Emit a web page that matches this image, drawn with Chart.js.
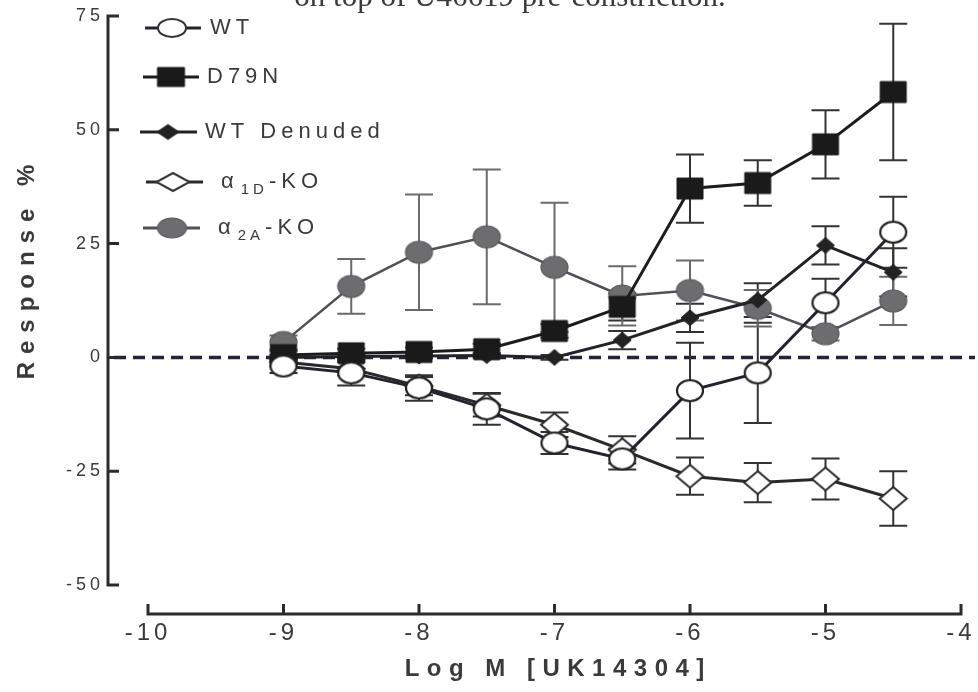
<!DOCTYPE html>
<html>
<head>
<meta charset="utf-8">
<script src="https://cdn.jsdelivr.net/npm/chart.js@4.4.0/dist/chart.umd.min.js"></script>
<style>
  html, body { margin: 0; padding: 0; background: #ffffff; }
  #wrap { width: 978px; height: 692px; }
</style>
</head>
<body>
<div id="wrap"><canvas id="c" width="978" height="692"></canvas></div>
<script>
// Concentration-response to UK14304 (log molar), % of U46619 pre-constriction
const logDose = [-9, -8.5, -8, -7.5, -7, -6.5, -6, -5.5, -5, -4.5];

const wtMean       = [-1.9, -3.4, -6.7, -11.3, -18.8, -22.3, -7.3, -3.4, 12.0, 27.5];
const wtSem        = [1.5, 2.8, 2.8, 3.5, 2.4, 2.3, 10.5, 11.0, 5.3, 7.8];

const d79nMean     = [0.5, 0.9, 1.2, 1.8, 5.8, 11.1, 37.1, 38.3, 46.8, 58.3];
const d79nSem      = [1.0, 1.0, 1.0, 1.2, 1.5, 3.0, 7.5, 5.0, 7.5, 15.0];

const denudedMean  = [0.0, 0.2, 0.3, 0.4, 0.0, 3.8, 8.7, 12.6, 24.6, 18.7];
const denudedSem   = [0.5, 0.5, 0.5, 0.5, 0.5, 2.0, 3.1, 3.7, 4.2, 5.3];

const a1dMean      = [-1.0, -2.5, -6.3, -10.5, -14.8, -20.3, -26.1, -27.5, -26.7, -31.0];
const a1dSem       = [1.0, 1.5, 2.0, 2.5, 2.7, 3.0, 4.1, 4.3, 4.5, 6.0];

const a2aMean      = [3.3, 15.6, 23.1, 26.5, 19.8, 13.5, 14.7, 10.8, 5.2, 12.4];
const a2aSem       = [1.5, 6.0, 12.7, 14.8, 14.2, 6.5, 6.6, 4.0, 1.5, 5.3];

const xTickValues = [-10, -9, -8, -7, -6, -5, -4];
const yTickValues = [-50, -25, 0, 25, 50, 75];

const xTitle = 'Log M [UK14304]';
const yTitle = 'Response %';
const topNote = 'on top of U46619 pre-constriction.';

const SANS = "'Liberation Sans', Arial, Helvetica, sans-serif";
const SERIF = "'Liberation Serif', 'Times New Roman', serif";
const INK = '#2b2b2b';
const TEXT = '#3a3a3a';

// Marker sprites (slightly wider than tall, like the printed figure)
function marker(shape, w, h, fill, stroke, lw) {
  const pad = Math.ceil(lw) + 1;
  const c = document.createElement('canvas');
  c.width = Math.ceil(w) + pad * 2;
  c.height = Math.ceil(h) + pad * 2;
  const g = c.getContext('2d');
  const cx = c.width / 2, cy = c.height / 2;
  g.beginPath();
  if (shape === 'ellipse') {
    g.ellipse(cx, cy, w / 2, h / 2, 0, 0, Math.PI * 2);
  } else if (shape === 'square') {
    g.rect(cx - w / 2, cy - h / 2, w, h);
  } else {
    g.moveTo(cx, cy - h / 2); g.lineTo(cx + w / 2, cy);
    g.lineTo(cx, cy + h / 2); g.lineTo(cx - w / 2, cy); g.closePath();
  }
  g.fillStyle = fill; g.fill();
  if (lw) { g.lineWidth = lw; g.strokeStyle = stroke; g.stroke(); }
  return c;
}

const series = [
  { label: 'WT',         mean: wtMean,      sem: wtSem,      line: '#222230', bar: '#333333', lw: 3,
    pt: marker('ellipse', 26, 21, '#ffffff', '#222222', 2.2),
    key: marker('ellipse', 28, 18, '#ffffff', '#333333', 2) },
  { label: 'D79N',       mean: d79nMean,    sem: d79nSem,    line: '#1c1c1c', bar: '#333333', lw: 3,
    pt: marker('square', 26, 21, '#1a1a1a', '#1a1a1a', 1),
    key: marker('square', 27, 19, '#1a1a1a', '#1a1a1a', 1) },
  { label: 'WT Denuded', mean: denudedMean, sem: denudedSem, line: '#222228', bar: '#333333', lw: 3,
    pt: marker('diamond', 18, 16, '#222222', '#222222', 1),
    key: marker('diamond', 22, 15, '#222222', '#222222', 1) },
  { label: 'a1D',        mean: a1dMean,     sem: a1dSem,     line: '#2a2a2a', bar: '#333333', lw: 3,
    pt: marker('diamond', 27, 23, '#ffffff', '#2a2a2a', 2),
    key: marker('diamond', 33, 18, '#ffffff', '#333333', 2) },
  { label: 'a2A',        mean: a2aMean,     sem: a2aSem,     line: '#505058', bar: '#6a6a6a', lw: 2.5,
    pt: marker('ellipse', 27, 22, '#6d6d6f', '#5a5a5c', 1.2),
    key: marker('ellipse', 29, 20, '#6d6d6f', '#5a5a5c', 1.2) }
];

const datasets = series.map((s, i) => ({
  label: s.label,
  data: logDose.map((x, j) => ({ x: x, y: s.mean[j] })),
  sem: s.sem,
  barColor: s.bar,
  legendMarker: s.key,
  borderColor: s.line,
  borderWidth: s.lw,
  pointStyle: s.pt,
  pointRadius: 12,
  pointHoverRadius: 12,
  showLine: true,
  tension: 0,
  fill: false,
  order: i
}));

function spacedText(ctx, str, x, y, spacing, align) {
  ctx.letterSpacing = spacing + 'px';
  const w = ctx.measureText(str).width - spacing;
  let sx = x;
  if (align === 'center') sx = x - w / 2;
  else if (align === 'right') sx = x - w;
  ctx.textAlign = 'left';
  ctx.fillText(str, sx, y);
  return sx + w + spacing;
}

// SEM bars, axes frame, zero reference line
const framePlugin = {
  id: 'frame',
  beforeDraw(chart) {
    chart.ctx.letterSpacing = '4px';
  },
  beforeDatasetsDraw(chart) {
    const { ctx, scales: { x, y }, chartArea } = chart;
    ctx.save();
    ctx.letterSpacing = '0px';

    // dashed zero line
    const y0 = y.getPixelForValue(0);
    ctx.strokeStyle = '#23233a';
    ctx.lineWidth = 3.5;
    ctx.setLineDash([12, 7]);
    ctx.beginPath();
    ctx.moveTo(chartArea.left - 34, y0);
    ctx.lineTo(975, y0);
    ctx.stroke();
    ctx.setLineDash([]);

    // error bars
    chart.data.datasets.forEach((ds, i) => {
      if (!chart.isDatasetVisible(i)) return;
      ctx.strokeStyle = ds.barColor;
      ctx.lineWidth = 2;
      ds.data.forEach((p, j) => {
        const e = ds.sem[j];
        const px = x.getPixelForValue(p.x);
        const t = y.getPixelForValue(p.y + e);
        const b = y.getPixelForValue(p.y - e);
        ctx.beginPath();
        ctx.moveTo(px, t); ctx.lineTo(px, b);
        ctx.moveTo(px - 14, t); ctx.lineTo(px + 14, t);
        ctx.moveTo(px - 14, b); ctx.lineTo(px + 14, b);
        ctx.stroke();
      });
    });
    ctx.restore();
  },
  afterDraw(chart) {
    const { ctx, scales: { x, y }, chartArea } = chart;
    ctx.save();
    ctx.letterSpacing = '0px';
    ctx.strokeStyle = INK;
    ctx.lineWidth = 3;
    ctx.lineCap = 'butt';

    // y axis, detached to the left of the plotting area
    const ax = chartArea.left - 40;
    ctx.beginPath();
    ctx.moveTo(ax, y.getPixelForValue(75) - 1.5);
    ctx.lineTo(ax, y.getPixelForValue(-50) + 1.5);
    yTickValues.forEach(v => {
      const py = y.getPixelForValue(v);
      ctx.moveTo(ax, py); ctx.lineTo(ax + 11, py);
    });
    ctx.stroke();

    // x axis, detached below
    const ay = chartArea.bottom + 29;
    ctx.beginPath();
    ctx.moveTo(x.getPixelForValue(-10) - 1.5, ay);
    ctx.lineTo(x.getPixelForValue(-4) + 1.5, ay);
    xTickValues.forEach(v => {
      const px = x.getPixelForValue(v);
      ctx.moveTo(px, ay); ctx.lineTo(px, ay - 10);
    });
    ctx.stroke();

    // axis titles
    ctx.fillStyle = TEXT;
    ctx.textBaseline = 'middle';
    ctx.font = 'bold 24px ' + SANS;
    spacedText(ctx, xTitle, (chartArea.left + chartArea.right) / 2, 669, 7.5, 'center');

    ctx.save();
    ctx.translate(27, 272);
    ctx.rotate(-Math.PI / 2);
    ctx.font = 'bold 24px ' + SANS;
    spacedText(ctx, yTitle, 0, 0, 8, 'center');
    ctx.restore();

    // caption line running off the top edge
    ctx.fillStyle = '#3a3a3a';
    ctx.textBaseline = 'alphabetic';
    ctx.font = '31px ' + SERIF;
    spacedText(ctx, topNote, 510, 6, 0, 'center');

    // legend
    const rows = [
      { y: 28,  x0: 145, x1: 201, mx: 172, tx: 210 },
      { y: 77,  x0: 143, x1: 199, mx: 171, tx: 207 },
      { y: 132, x0: 140, x1: 197, mx: 168, tx: 205 },
      { y: 182, x0: 146, x1: 203, mx: 173, tx: 221 },
      { y: 228, x0: 143, x1: 200, mx: 172, tx: 218 }
    ];
    const names = [
      [['WT', 0]],
      [['D79N', 0]],
      [['WT Denuded', 0]],
      [['\u03b1', 0], ['1D', 1], ['-KO', 0]],
      [['\u03b1', 0], ['2A', 1], ['-KO', 0]]
    ];
    chart.data.datasets.forEach((ds, i) => {
      const r = rows[i];
      ctx.strokeStyle = ds.borderColor;
      ctx.lineWidth = 3;
      ctx.beginPath();
      ctx.moveTo(r.x0, r.y); ctx.lineTo(r.x1, r.y);
      ctx.stroke();
      const m = ds.legendMarker;
      ctx.drawImage(m, r.mx - m.width / 2, r.y - m.height / 2);
      ctx.fillStyle = TEXT;
      let tx = r.tx;
      names[i].forEach(([s, sub]) => {
        if (sub) {
          ctx.font = '15px ' + SANS;
          ctx.textBaseline = 'alphabetic';
          tx = spacedText(ctx, s, tx + 2, r.y + 12, 4, 'left') + 1;
        } else {
          ctx.font = '22px ' + SANS;
          ctx.textBaseline = 'middle';
          tx = spacedText(ctx, s, tx, r.y, 5, 'left');
        }
      });
    });
    ctx.restore();
  }
};

Chart.defaults.font.family = SANS;
Chart.defaults.color = TEXT;

new Chart(document.getElementById('c'), {
  type: 'line',
  data: { datasets },
  options: {
    responsive: false,
    animation: false,
    devicePixelRatio: 1,
    layout: { padding: { top: 16, right: 17, left: 0, bottom: 0 } },
    plugins: { legend: { display: false }, tooltip: { enabled: false }, title: { display: false } },
    scales: {
      x: {
        type: 'linear',
        min: -10, max: -4,
        afterBuildTicks: s => { s.ticks = xTickValues.map(v => ({ value: v })); },
        afterFit: s => { s.height = 107; s.paddingLeft = 0; s.paddingRight = 0; },
        grid: { display: false, drawTicks: false },
        border: { display: false },
        ticks: { font: { size: 24 }, color: TEXT, padding: 34, maxRotation: 0 }
      },
      y: {
        type: 'linear',
        min: -50, max: 75,
        afterBuildTicks: s => { s.ticks = yTickValues.map(v => ({ value: v })); },
        afterFit: s => { s.width = 148; s.paddingTop = 0; s.paddingBottom = 0; },
        grid: { display: false, drawTicks: false },
        border: { display: false },
        ticks: { font: { size: 18 }, color: TEXT, padding: 44 }
      }
    }
  },
  plugins: [framePlugin]
});
</script>
</body>
</html>
